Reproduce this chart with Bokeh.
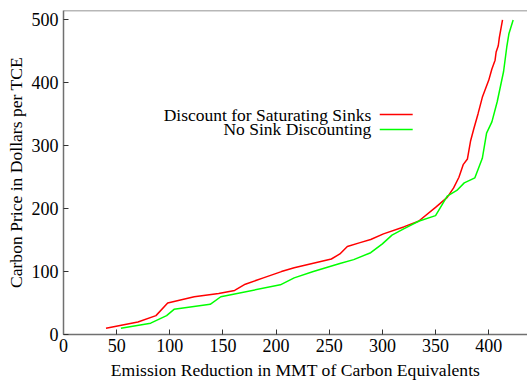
from bokeh.plotting import figure
from bokeh.models import Range1d, FixedTicker, Span
from bokeh.core.properties import value
from bokeh.embed import file_html
from bokeh.resources import INLINE

# Data
red_x = [40, 70, 87, 98, 123, 146, 161, 171, 188, 205, 217, 252, 260, 267, 279, 289,
         301, 320, 334, 350, 361, 367, 372, 376, 380, 383, 386, 390, 394, 400, 403,
         406, 407, 409, 410, 413]
red_y = [10, 20, 30, 50, 60, 65, 70, 80, 90, 100, 106, 120, 128, 140, 146, 151,
         160, 171, 180, 202, 218, 233, 250, 270, 279, 308, 327, 351, 377, 404, 422,
         436, 449, 459, 472, 500]
green_x = [54, 82, 97, 104, 138, 148, 204, 217, 235, 260, 273, 289, 300, 309, 320,
           334, 350, 361, 370, 377, 387, 394, 398, 403, 408, 414, 417, 419, 423]
green_y = [10, 18, 30, 40, 48, 60, 79, 90, 100, 113, 119, 130, 144, 158, 168,
           180, 189, 220, 229, 241, 249, 280, 320, 338, 370, 418, 457, 478, 500]

series_names = ["Discount for Saturating Sinks", "No Sink Discounting"]
x_ticks = [0, 50, 100, 150, 200, 250, 300, 350, 400]
y_ticks = [0, 100, 200, 300, 400, 500]

FONT = "Liberation Serif"
AX = "#707070"

p = figure(width=527, height=385, output_backend="svg", toolbar_location=None,
           x_range=Range1d(0, 436.5), y_range=Range1d(0, 515),
           min_border_left=63, min_border_top=10, min_border_bottom=51,
           min_border_right=0)
p.outline_line_color = None
p.grid.visible = False
p.background_fill_color = "white"
p.border_fill_color = "white"

for ax in (p.xaxis[0], p.yaxis[0]):
    ax.axis_line_color = AX
    ax.axis_line_width = 1.5
    ax.major_tick_line_color = "#333333"
    ax.major_tick_in = 5
    ax.major_tick_out = 0
    ax.minor_tick_line_color = None
    ax.major_label_text_font = FONT
    ax.major_label_text_font_size = "18px"
    ax.major_label_text_color = "black"
    ax.axis_label_text_font = FONT
    ax.axis_label_text_font_size = "17.6px"
    ax.axis_label_text_font_style = "normal"
    ax.axis_label_text_color = "black"

p.xaxis.ticker = FixedTicker(ticks=x_ticks)
p.yaxis.ticker = FixedTicker(ticks=y_ticks)
p.xaxis.axis_label = "Emission Reduction in MMT of Carbon Equivalents"
p.yaxis.axis_label = "Carbon Price in Dollars per TCE"
p.xaxis.major_label_standoff = 4
p.yaxis.major_label_standoff = 5
p.xaxis.axis_label_standoff = 5
p.yaxis.axis_label_standoff = 3

top = Span(location=515, dimension="width", line_color=AX, line_width=1.5)
p.add_layout(top)

p.line(red_x, red_y, line_color="#ff0000", line_width=1.5)
p.line(green_x, green_y, line_color="#00ff00", line_width=1.5)

# manual gnuplot-style legend (text right, sample line to the right)
leg_text_x = 289.5
leg_line_x0, leg_line_x1 = 297.5, 328.5
leg_y = [349.5, 326]
colors = ["#ff0000", "#00ff00"]
p.text(x=[leg_text_x] * 2, y=leg_y, text=series_names, text_align="right",
       text_baseline="middle", text_font=value(FONT), text_font_size="17.5px",
       text_color="black")
p.segment(x0=[leg_line_x0] * 2, y0=leg_y, x1=[leg_line_x1] * 2, y1=leg_y,
          line_color=colors, line_width=1.5)

open("out.html", "w").write(file_html(p, INLINE))
